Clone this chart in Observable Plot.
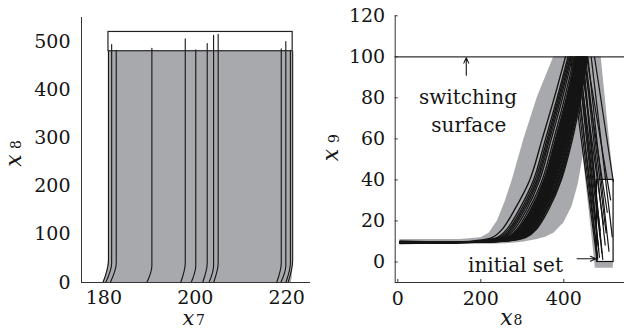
<!DOCTYPE html>
<html><head><meta charset="utf-8">
<script src="https://cdn.jsdelivr.net/npm/d3@7"></script>
<script src="https://cdn.jsdelivr.net/npm/@observablehq/plot@0.6"></script>
<style>
body{margin:0;background:#fff;}
#wrap{display:flex;width:624px;height:329px;overflow:hidden;}
#err{position:absolute;left:0;top:0;font:11px monospace;white-space:pre-wrap;color:red;}
</style></head><body><div id="wrap"></div><div id="err"></div>
<script>
// ---------- Left panel (x7 vs x8) ----------
const leftXDomain = [175.1, 225.2];
const leftYDomain = [0, 550];
const leftXTicks = [180, 200, 220];
const leftYTicks = [0, 100, 200, 300, 400, 500];
const reachY = [0, 10, 25, 45, 480];
const reachLeftX7 = [179.8, 180.3, 180.7, 181.0, 181.0];
const reachRightX7 = [221.0, 221.2, 221.3, 221.3, 221.3];
const leftBoxX7 = [181.0, 221.3];
const leftBoxX8 = [480, 520];
const traj7Start = [179.8, 180.4, 181.4, 189.4, 196.8, 199.1, 201.6, 203.0, 204.0, 217.8, 218.7, 219.8, 220.3];
const traj7End   = [181.0, 181.7, 182.7, 190.5, 197.8, 200.1, 202.6, 204.0, 205.0, 218.8, 219.8, 220.8, 221.3];
const traj8Knee  = [45, 40, 40, 35, 40, 35, 40, 35, 40, 40, 35, 40, 45];
const traj8End   = [480, 494, 482, 486, 506, 483, 496, 513, 515, 485, 500, 482, 480];

// ---------- Right panel (x8 vs x9) ----------
const rightXDomain = [-6.3, 546.3];
const rightYDomain = [-10, 120];
const rightXTicks = [0, 200, 400];
const rightYTicks = [0, 20, 40, 60, 80, 100, 120];
const switchingSurface = 100;
const bandX8     = [5, 150, 200, 220, 240, 258, 276, 290, 304, 320, 336, 356, 376, 400, 420, 435, 447, 458];
const bandUpper  = [10.9, 11, 11.8, 14, 20, 29, 40, 50, 60, 70, 80, 90, 100, 100, 100, 100, 100, 100];
const bandLower  = [8.5, 8.5, 8.6, 8.7, 8.8, 8.9, 9.1, 9.4, 9.8, 10.3, 11.0, 12.0, 14.0, 19.0, 27.0, 38.0, 52.0, 70.0];
const sbandY     = [-3, 0, 40, 100];
const sbandLeft  = [476, 474.5, 453, 421];
const sbandRight = [519, 520, 520, 490];
const initX8 = [480, 520];
const initX9 = [0, 40];
const expY = [9.6, 10.3, 12, 16, 25, 40, 60, 80, 100];
const expStartY = [9.2, 9.5, 9.8, 9.4, 10.1, 9.6, 9.0, 9.7, 9.3, 9.9, 9.5, 9.8, 9.1, 9.6, 10.0, 9.4, 9.7, 9.3, 9.6, 9.9, 9.2, 9.5, 9.8, 9.4, 9.7, 9.3, 9.6, 9.9, 9.2, 9.5, 9.8, 9.4, 9.6];
const expX = [
  [5, 185, 228, 252, 280, 318, 348, 377, 404],
  [5, 196, 240, 263, 291, 327, 356, 384, 410],
  [5, 204, 249, 272, 300, 335, 363, 390, 416],
  [5, 213, 256, 281, 309, 342, 370, 397, 421],
  [5, 217, 262, 287, 314, 348, 376, 402, 425],
  [5, 223, 266, 290, 319, 352, 380, 406, 428],
  [5, 226, 271, 295, 322, 355, 384, 409, 432],
  [5, 231, 273, 298, 326, 359, 386, 412, 434],
  [5, 233, 277, 300, 329, 361, 390, 415, 437],
  [5, 237, 279, 304, 331, 365, 392, 418, 438],
  [5, 239, 283, 306, 335, 367, 396, 420, 441],
  [5, 243, 285, 310, 337, 371, 398, 423, 442],
  [5, 245, 289, 312, 341, 373, 401, 425, 445],
  [5, 249, 291, 316, 343, 377, 404, 428, 446],
  [5, 251, 295, 318, 347, 379, 407, 430, 449],
  [5, 255, 297, 323, 350, 384, 411, 434, 450],
  [5, 258, 301, 326, 355, 387, 414, 436, 452],
  [5, 263, 304, 331, 358, 392, 418, 439, 455],
  [5, 266, 309, 334, 362, 394, 421, 441, 457],
  [5, 228, 272, 296, 324, 357, 385, 410, 433],
  [5, 235, 278, 302, 330, 363, 391, 416, 437],
  [5, 241, 284, 308, 336, 369, 397, 421, 441],
  [5, 247, 290, 314, 342, 375, 402, 426, 446],
  [5, 253, 296, 320, 348, 381, 409, 432, 449],
  [5, 260, 302, 328, 356, 389, 416, 437, 453],
  [5, 225, 268, 293, 320, 353, 382, 408, 430],
  [5, 230, 275, 299, 327, 360, 388, 413, 435],
  [5, 236, 281, 305, 333, 366, 394, 419, 439],
  [5, 242, 287, 311, 339, 372, 399, 424, 443],
  [5, 248, 292, 317, 345, 378, 405, 429, 447],
  [5, 254, 299, 324, 352, 385, 412, 435, 451],
  [5, 208, 252, 276, 304, 338, 366, 393, 418],
  [5, 200, 244, 268, 296, 331, 360, 387, 413]
];
const lineStartX8 = [480.5, 481, 482, 484, 486, 489, 492, 496, 500, 505, 509, 513, 517, 519.5, 483, 488, 494, 502];
const lineStartX9 = [0.5, 3, 1, 6, 2, 10, 4, 18, 8, 24, 5, 30, 12, 39, 8, 15, 1, 14];
const lineEndX8   = [416, 421, 428, 433, 438, 432, 444, 440, 450, 447, 458, 455, 466, 474, 424, 436, 446, 452];
const annoText = ["switching", "surface", "initial set"];
const annoX8 = [169, 171, 283.6];
const annoX9 = [80.3, 66.4, -1.75];
const arrowX1 = [165, 432], arrowY1 = [91, 1.6], arrowX2 = [165, 477], arrowY2 = [99.5, 1.6];

// ---------- build ----------
const GRAY = "#a8a9ad", INK = "#151515", AXIS = "#333";
const style = {fontFamily: "DejaVu Serif", fontSize: "19px", background: "white", color: INK, overflow: "visible"};

try {
const reachRows = reachY.map((y, i) => ({y, x1: reachLeftX7[i], x2: reachRightX7[i]}));
const leftBox = [{x1: leftBoxX7[0], x2: leftBoxX7[1], y1: leftBoxX8[0], y2: leftBoxX8[1]}];
const trajRows = traj7Start.flatMap((s, i) => [
  {id: i, x: s, y: 0},
  {id: i, x: traj7End[i], y: traj8Knee[i]},
  {id: i, x: traj7End[i], y: traj8End[i]}
]);

function labelMarks(sub, xOpts, subOpts, rotate) {
  const common = {lineAnchor: "middle", textAnchor: "middle", fill: INK, rotate};
  return [
    Plot.text(["x"], {text: d => d, fontStyle: "italic", fontSize: 22, ...common, ...xOpts}),
    Plot.text([sub], {text: d => d, fontSize: 14, ...common, ...subOpts})
  ];
}

const left = Plot.plot({
  width: 312, height: 329,
  marginLeft: 81, marginRight: 2, marginTop: 17, marginBottom: 47,
  x: {domain: leftXDomain},
  y: {domain: leftYDomain},
  style,
  marks: [
    Plot.areaX(reachRows, {y: "y", x1: "x1", x2: "x2", fill: GRAY}),
    Plot.rect(leftBox, {x1: "x1", x2: "x2", y1: "y1", y2: "y2", fill: "white"}),
    Plot.line(trajRows, {x: "x", y: "y", z: "id", curve: "monotone-y", stroke: INK, strokeWidth: 1.1}),
    Plot.rect(leftBox, {x1: "x1", x2: "x2", y1: "y1", y2: "y2", fill: "none", stroke: "#222", strokeWidth: 1.2}),
    Plot.ruleX([leftXDomain[0]], {stroke: AXIS}),
    Plot.ruleY([leftYDomain[0]], {stroke: AXIS}),
    Plot.axisX({ticks: leftXTicks, tickSize: 0, tickPadding: 8, fill: INK}),
    Plot.axisY({ticks: leftYTicks, tickSize: 0, tickPadding: 11, fill: INK}),
    ...labelMarks("7", {frameAnchor: "bottom", dx: -7.5, dy: 35.8, fontSize: 21}, {frameAnchor: "bottom", dx: 4.5, dy: 38}, 0),
    ...labelMarks("8", {frameAnchor: "left", dx: -67.3, dy: 10.5}, {frameAnchor: "left", dx: -65, dy: -5.5}, -90)
  ]
});

const bandRows = bandX8.map((x, i) => ({x, y1: bandLower[i], y2: bandUpper[i]}));
const sbandRows = sbandY.map((y, i) => ({y, x1: sbandLeft[i], x2: sbandRight[i]}));
const initBox = [{x1: initX8[0], x2: initX8[1], y1: initX9[0], y2: initX9[1]}];
const expRows = expX.flatMap((xs, i) => xs.map((x, j) => ({id: i, x, y: j === 0 ? expStartY[i] : expY[j]})));
const lineRows = lineStartX8.map((x, i) => ({x1: x, y1: lineStartX9[i], x2: lineEndX8[i], y2: switchingSurface}));
const annoRows = annoText.map((t, i) => ({t, x: annoX8[i], y: annoX9[i]}));
const arrowRows = arrowX1.map((x, i) => ({x1: x, y1: arrowY1[i], x2: arrowX2[i], y2: arrowY2[i]}));

const right = Plot.plot({
  width: 312, height: 329,
  marginLeft: 82.7, marginRight: 0, marginTop: 15.3, marginBottom: 47,
  x: {domain: rightXDomain},
  y: {domain: rightYDomain},
  style,
  marks: [
    Plot.areaY(bandRows, {x: "x", y1: "y1", y2: "y2", fill: GRAY}),
    Plot.areaX(sbandRows, {y: "y", x1: "x1", x2: "x2", fill: GRAY}),
    Plot.rect(initBox, {x1: "x1", x2: "x2", y1: "y1", y2: "y2", fill: "white"}),
    Plot.ruleY([switchingSurface], {stroke: AXIS, strokeWidth: 1.1}),
    Plot.line(expRows, {x: "x", y: "y", z: "id", curve: "catmull-rom", stroke: INK, strokeWidth: 1.4}),
    Plot.link(lineRows, {x1: "x1", y1: "y1", x2: "x2", y2: "y2", stroke: INK, strokeWidth: 1.2}),
    Plot.rect(initBox, {x1: "x1", x2: "x2", y1: "y1", y2: "y2", fill: "none", stroke: "#111", strokeWidth: 1.2}),
    Plot.arrow(arrowRows, {x1: "x1", y1: "y1", x2: "x2", y2: "y2", stroke: INK, strokeWidth: 1.1, headLength: 8, headAngle: 50}),
    Plot.text(annoRows, {x: "x", y: "y", text: "t", fontSize: 20, fill: INK}),
    Plot.ruleX([rightXDomain[0]], {stroke: AXIS}),
    Plot.ruleY([rightYDomain[0]], {stroke: AXIS}),
    Plot.axisX({ticks: rightXTicks, tickSize: -3, tickPadding: 12, fill: INK, stroke: AXIS}),
    Plot.axisY({ticks: rightYTicks, tickSize: -3, tickPadding: 13, fill: INK, stroke: AXIS}),
    ...labelMarks("8", {frameAnchor: "bottom", dx: -3.3, dy: 35}, {frameAnchor: "bottom", dx: 8.2, dy: 38}, 0),
    ...labelMarks("9", {frameAnchor: "left", dx: -64.5, dy: 5.9}, {frameAnchor: "left", dx: -60.8, dy: -10.6}, -90)
  ]
});

document.getElementById("wrap").append(left, right);
} catch (e) {
  document.getElementById("err").textContent = String(e) + "\n" + e.stack;
}
</script></body></html>
